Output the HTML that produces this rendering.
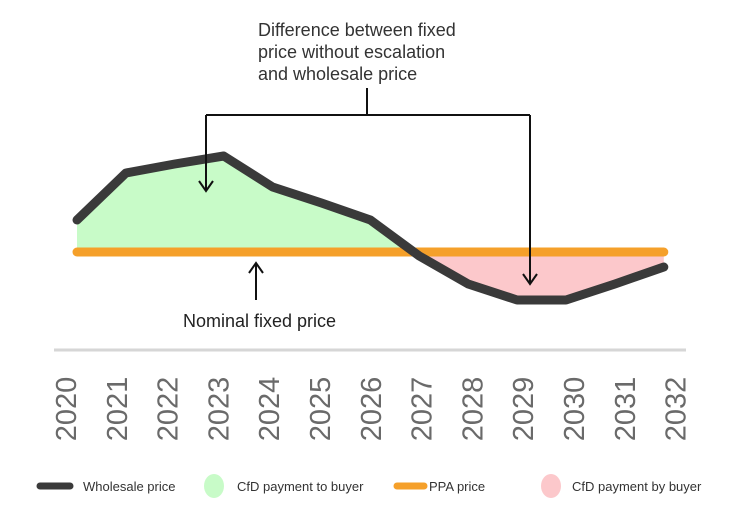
<!DOCTYPE html>
<html><head><meta charset="utf-8"><style>
body{margin:0;background:#fff;}
svg{display:block;font-family:"Liberation Sans",sans-serif;}
</style></head><body>
<svg width="740" height="510" viewBox="0 0 740 510">
<defs>
<clipPath id="above"><rect x="0" y="0" width="740" height="252"/></clipPath>
<clipPath id="below"><rect x="0" y="252" width="740" height="200"/></clipPath>
</defs>
<g id="plot"></g>
<line x1="54" y1="350" x2="686" y2="350" stroke="#d6d6d6" stroke-width="3"/>
<g id="xlabels"></g>
<g fill="#333" font-size="18">
<text x="258" y="36">Difference between fixed</text>
<text x="258" y="58">price without escalation</text>
<text x="258" y="80">and wholesale price</text>
</g>
<g stroke="#111" stroke-width="2" fill="none">
<path d="M367 88 V115 M206 115 H530 M206 115 V190 M530 115 V283"/>
<path d="M199 181 L206 191 L213 181 M523 274 L530 284 L537 274"/>
<path d="M256 300 V264 M249 273 L256 263 L263 273"/>
</g>
<text x="183" y="327" font-size="18" fill="#222">Nominal fixed price</text>
<g font-size="13" fill="#333">
<g><line x1="40" y1="486" x2="70" y2="486" stroke="#3a3a3a" stroke-width="7" stroke-linecap="round"/><text x="83" y="491">Wholesale price</text></g>
<g><ellipse cx="214" cy="486" rx="10" ry="12" fill="#c8fbc8"/><text x="237" y="491">CfD payment to buyer</text></g>
<g><line x1="397" y1="486" x2="424" y2="486" stroke="#f5a02a" stroke-width="7" stroke-linecap="round"/><text x="429" y="491">PPA price</text></g>
<g><ellipse cx="551" cy="486" rx="10" ry="12" fill="#fcc8cb"/><text x="572" y="491">CfD payment by buyer</text></g>
</g>
</svg>
<script>
const years=["2020","2021","2022","2023","2024","2025","2026","2027","2028","2029","2030","2031","2032"];
const wholesale=[60,83.5,88,92,76.5,68.5,60,42,28,20,20,28,36.5];
const ppa=[44,44,44,44,44,44,44,44,44,44,44,44,44];
const NS="http://www.w3.org/2000/svg";
function xs(i){return 77+i*48.9;}
function ys(v){return 340-v*2;}
function labX(i){return 66+i*50.8;}
const plot=document.getElementById('plot');
const ppaY=ys(ppa[0]);
let area="M"+xs(0)+" "+ppaY;
wholesale.forEach((v,i)=>{area+=" L"+xs(i)+" "+ys(v);});
area+=" L"+xs(years.length-1)+" "+ppaY+" Z";
const g1=document.createElementNS(NS,'path');
g1.setAttribute('d',area);g1.setAttribute('fill','#c8fbc8');g1.setAttribute('clip-path','url(#above)');


plot.appendChild(g1);
const g2=document.createElementNS(NS,'path');
g2.setAttribute('d',area);g2.setAttribute('fill','#fcc8cb');g2.setAttribute('clip-path','url(#below)');


plot.appendChild(g2);
const pl=document.createElementNS(NS,'polyline');
pl.setAttribute('points',ppa.map((v,i)=>xs(i)+","+ys(v)).join(" "));
pl.setAttribute('fill','none');pl.setAttribute('stroke','#f5a02a');pl.setAttribute('stroke-width','9');pl.setAttribute('stroke-linecap','round');


plot.appendChild(pl);
const wl=document.createElementNS(NS,'polyline');
wl.setAttribute('points',wholesale.map((v,i)=>xs(i)+","+ys(v)).join(" "));
wl.setAttribute('fill','none');wl.setAttribute('stroke','#3a3a3a');wl.setAttribute('stroke-width','9');wl.setAttribute('stroke-linecap','round');wl.setAttribute('stroke-linejoin','round');


plot.appendChild(wl);
const xl=document.getElementById('xlabels');
years.forEach((y,i)=>{
  const t=document.createElementNS(NS,'text');
  t.setAttribute('transform','translate('+(labX(i)+10)+',409) rotate(-90)');
  t.setAttribute('text-anchor','middle');t.setAttribute('font-size','29');t.setAttribute('fill','#6a6a6a');
  t.textContent=y;
  
  
  xl.appendChild(t);
});
</script>
</body></html>
